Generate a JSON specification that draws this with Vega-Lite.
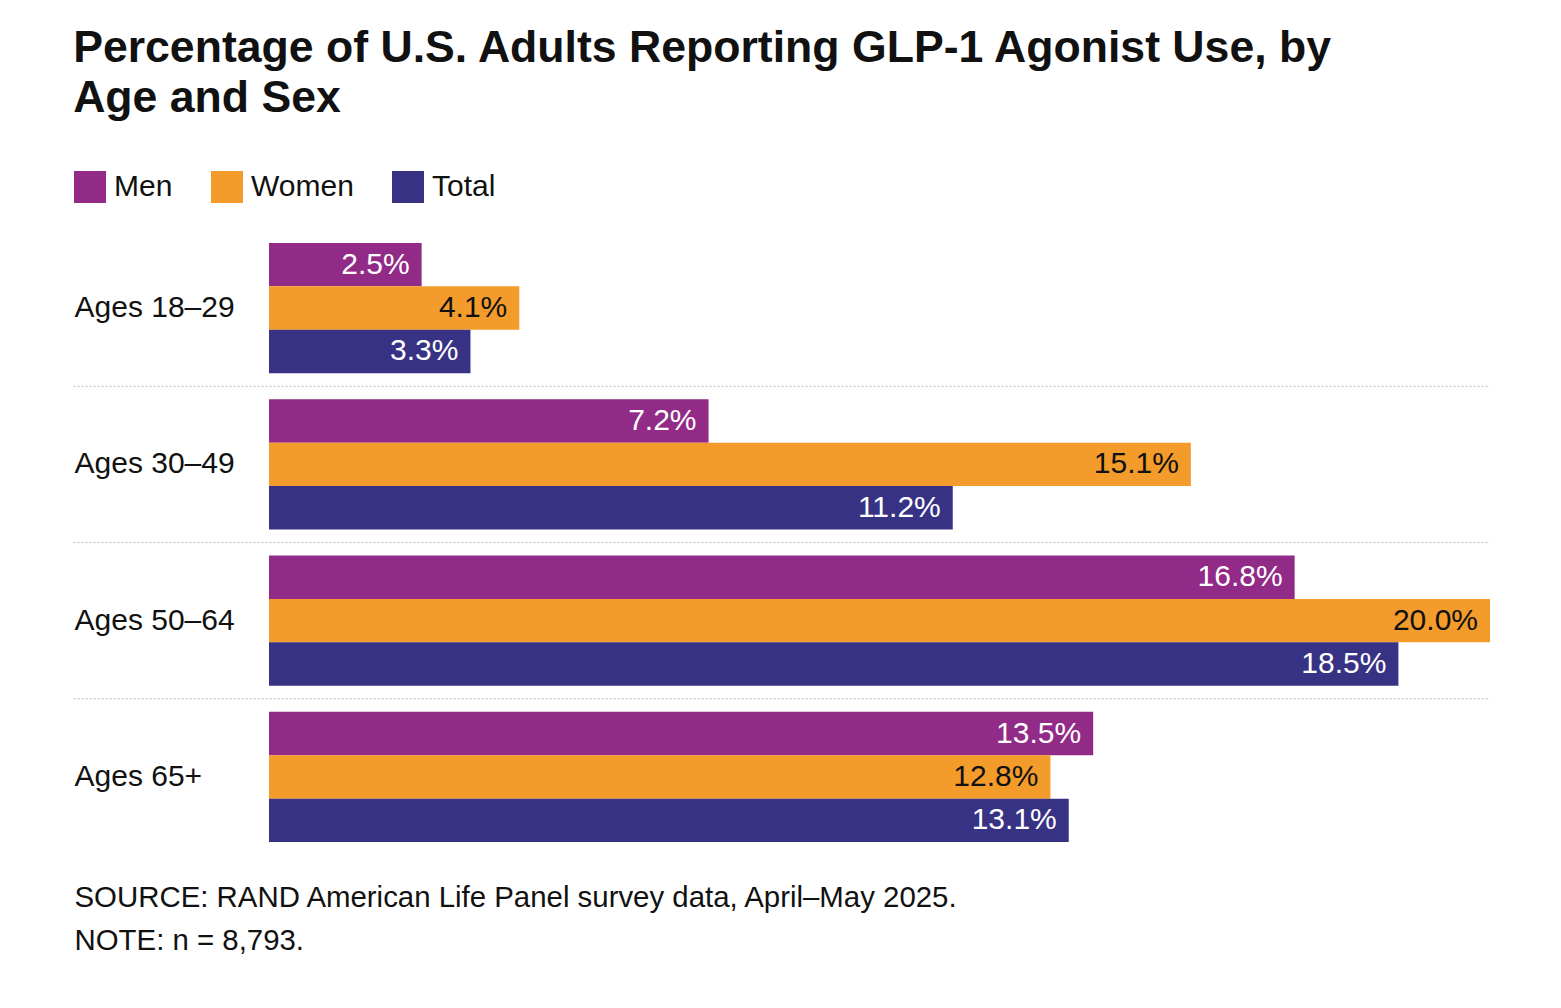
{
  "$schema": "https://vega.github.io/schema/vega-lite/v6.json",
  "width": 1221,
  "height": 625,
  "padding": {"left": 73, "top": 26, "right": 10, "bottom": 10},
  "background": "white",
  "title": {
    "text": ["Percentage of U.S. Adults Reporting GLP-1 Agonist Use, by", "Age and Sex"],
    "anchor": "start",
    "frame": "bounds",
    "font": "Liberation Sans",
    "fontSize": 44.6,
    "fontWeight": "bold",
    "lineHeight": 50,
    "color": "#111111",
    "offset": 49
  },
  "config": {
    "view": {"stroke": null},
    "font": "Liberation Sans"
  },
  "data": {
    "values": [
      {"age": "Ages 18–29", "sex": "Men", "pct": 0.025},
      {"age": "Ages 18–29", "sex": "Women", "pct": 0.041},
      {"age": "Ages 18–29", "sex": "Total", "pct": 0.033},
      {"age": "Ages 30–49", "sex": "Men", "pct": 0.072},
      {"age": "Ages 30–49", "sex": "Women", "pct": 0.151},
      {"age": "Ages 30–49", "sex": "Total", "pct": 0.112},
      {"age": "Ages 50–64", "sex": "Men", "pct": 0.168},
      {"age": "Ages 50–64", "sex": "Women", "pct": 0.200},
      {"age": "Ages 50–64", "sex": "Total", "pct": 0.185},
      {"age": "Ages 65+", "sex": "Men", "pct": 0.135},
      {"age": "Ages 65+", "sex": "Women", "pct": 0.128},
      {"age": "Ages 65+", "sex": "Total", "pct": 0.131}
    ]
  },
  "layer": [
    {
      "transform": [{"filter": "datum.sex === 'Men' && datum.age !== 'Ages 18–29'"}],
      "mark": {"type": "rule", "color": "#b5b5b5", "strokeWidth": 1, "strokeDash": [2, 2]},
      "encoding": {
        "y": {
          "field": "age",
          "type": "nominal",
          "sort": ["Ages 18–29", "Ages 30–49", "Ages 50–64", "Ages 65+"],
          "bandPosition": -0.1
        },
        "x": {"datum": -0.032, "scale": {"domain": [0, 0.2]}},
        "x2": {"datum": 0.2}
      }
    },
    {
      "mark": {"type": "bar"},
      "encoding": {
        "y": {
          "field": "age",
          "type": "nominal",
          "sort": ["Ages 18–29", "Ages 30–49", "Ages 50–64", "Ages 65+"],
          "scale": {"paddingInner": 0.167, "paddingOuter": 0.083},
          "axis": {
            "title": null,
            "ticks": false,
            "domain": false,
            "labelAlign": "left",
            "labelPadding": 195,
            "labelFontSize": 30,
            "labelColor": "#111111",
            "labelFont": "Liberation Sans"
          }
        },
        "yOffset": {
          "field": "sex",
          "type": "nominal",
          "sort": ["Men", "Women", "Total"],
          "scale": {"paddingInner": 0, "paddingOuter": 0}
        },
        "x": {
          "field": "pct",
          "type": "quantitative",
          "scale": {"domain": [0, 0.2]},
          "axis": {
            "labels": false,
            "ticks": false,
            "domain": false,
            "grid": false,
            "title": ["SOURCE: RAND American Life Panel survey data, April–May 2025.", "NOTE: n = 8,793."],
            "titleFont": "Liberation Sans",
            "titleFontSize": 29.4,
            "titleFontWeight": "normal",
            "titleColor": "#111111",
            "titleAlign": "left",
            "titleBaseline": "alphabetic",
            "titleLineHeight": 43,
            "titleX": -195,
            "titleY": 51
          }
        },
        "color": {
          "field": "sex",
          "type": "nominal",
          "scale": {"domain": ["Men", "Women", "Total"], "range": ["#922a87", "#f39b2b", "#373284"]},
          "legend": {
            "title": null,
            "orient": "none",
            "legendX": -195,
            "legendY": -59,
            "direction": "horizontal",
            "symbolType": "square",
            "symbolSize": 1024,
            "symbolStrokeWidth": 0,
            "labelFontSize": 30,
            "labelColor": "#111111",
            "labelOffset": 8,
            "columnPadding": 38
          }
        }
      }
    },
    {
      "mark": {"type": "text", "align": "right", "baseline": "middle", "dx": -12, "fontSize": 30},
      "encoding": {
        "y": {
          "field": "age",
          "type": "nominal",
          "sort": ["Ages 18–29", "Ages 30–49", "Ages 50–64", "Ages 65+"]
        },
        "yOffset": {
          "field": "sex",
          "type": "nominal",
          "sort": ["Men", "Women", "Total"]
        },
        "x": {"field": "pct", "type": "quantitative", "scale": {"domain": [0, 0.2]}},
        "text": {"field": "pct", "type": "quantitative", "format": ".1%"},
        "color": {
          "condition": {"test": "datum.sex === 'Women'", "value": "#111111"},
          "value": "#ffffff"
        }
      }
    }
  ]
}
